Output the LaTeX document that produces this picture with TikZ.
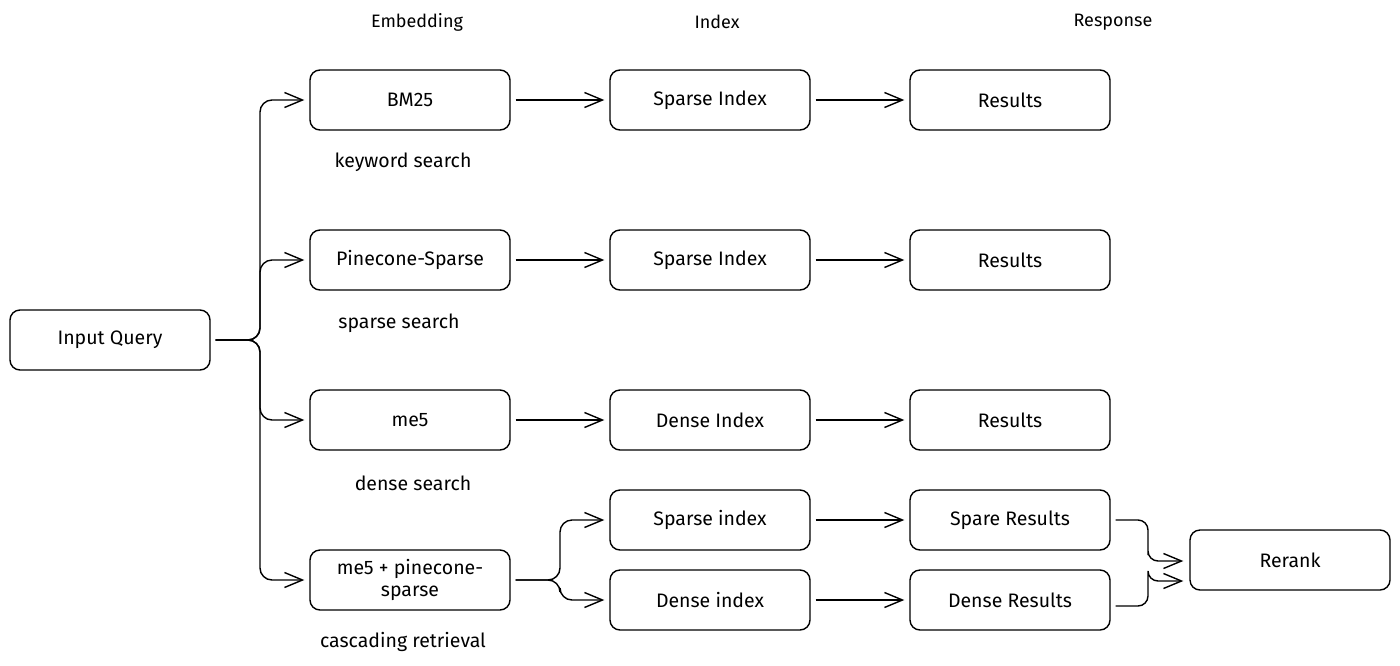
\documentclass[tikz,border=0pt]{standalone}
\usepackage{fontspec}
\setmainfont{Fira Sans}
\usetikzlibrary{arrows.meta}
\begin{document}
\begin{tikzpicture}[x=1pt,y=-1pt,
  box/.style={draw, line width=1.4pt, rounded corners=10pt, minimum width=200pt, minimum height=60pt, inner sep=0pt, font=\fontsize{19.5}{22}\selectfont, align=center},
  lbl/.style={font=\fontsize{19.5}{22}\selectfont, inner sep=0pt},
  hdr/.style={font=\fontsize{18}{22}\selectfont, inner sep=0pt},
  conn/.style={line width=1.4pt, rounded corners=12pt, -{Straight Barb[length=18pt,width=15pt,line width=1.4pt]}}]
\useasboundingbox (0,0) rectangle (1400,665);
% headers
\node[hdr] (hEmb) at (417,22) {Embedding};
\node[hdr] (hIdx) at (717,22) {Index};
\node[hdr] (hRes) at (1113,22) {Response};
% boxes
\node[box] (iq) at (110,340) {Input Query};
\node[box] (bm) at (410,100) {BM25};
\node[box] (ps) at (410,260) {Pinecone-Sparse};
\node[box] (me) at (410,420) {me5};
\node[box] (mp) at (410,580) {me5 + pinecone-\\sparse};
\node[box] (si1) at (710,100) {Sparse Index};
\node[box] (si2) at (710,260) {Sparse Index};
\node[box] (di) at (710,420) {Dense Index};
\node[box] (si3) at (710,520) {Sparse index};
\node[box] (di2) at (710,600) {Dense index};
\node[box] (r1) at (1010,100) {Results};
\node[box] (r2) at (1010,260) {Results};
\node[box] (r3) at (1010,420) {Results};
\node[box] (sr) at (1010,520) {Spare Results};
\node[box] (dr) at (1010,600) {Dense Results};
\node[box] (rr) at (1290,560) {Rerank};
% labels
\node[lbl] (l1) at (403,162) {keyword search};
\node[lbl] (l2) at (399,323) {sparse search};
\node[lbl] (l3) at (413,483) {dense search};
\node[lbl] (l4) at (403,642) {cascading retrieval};
% input query branches
\coordinate (iqo) at ([xshift=5pt]iq.east);
\coordinate (j1) at (260,340);
\draw[conn] (iqo) -- (j1) |- ([xshift=-5pt]bm.west);
\draw[conn] (iqo) -- (j1) |- ([xshift=-5pt]ps.west);
\draw[conn] (iqo) -- (j1) |- ([xshift=-5pt]me.west);
\draw[conn] (iqo) -- (j1) |- ([xshift=-5pt]mp.west);
% straight arrows
\foreach \a/\b in {bm/si1, ps/si2, me/di, si1/r1, si2/r2, di/r3, si3/sr, di2/dr}
  \draw[conn] ([xshift=5pt]\a.east) -- ([xshift=-5pt]\b.west);
% cascading
\coordinate (mpo) at ([xshift=5pt]mp.east);
\coordinate (j2) at (560,580);
\draw[conn] (mpo) -- (j2) |- ([xshift=-5pt]si3.west);
\draw[conn] (mpo) -- (j2) |- ([xshift=-5pt]di2.west);
% rerank
\coordinate (sro) at ([xshift=5pt]sr.east);
\coordinate (dro) at ([xshift=5pt,yshift=-6pt]dr.east);
\coordinate (rri1) at ([xshift=-6pt,yshift=-1pt]rr.west);
\coordinate (rri2) at ([xshift=-6pt,yshift=-21pt]rr.west);
\draw[conn, rounded corners=10pt] (sro) -| (1148,561) |- (rri1);
\draw[conn, rounded corners=10pt] (dro) -| (1148,581) |- (rri2);
\end{tikzpicture}
\end{document}
